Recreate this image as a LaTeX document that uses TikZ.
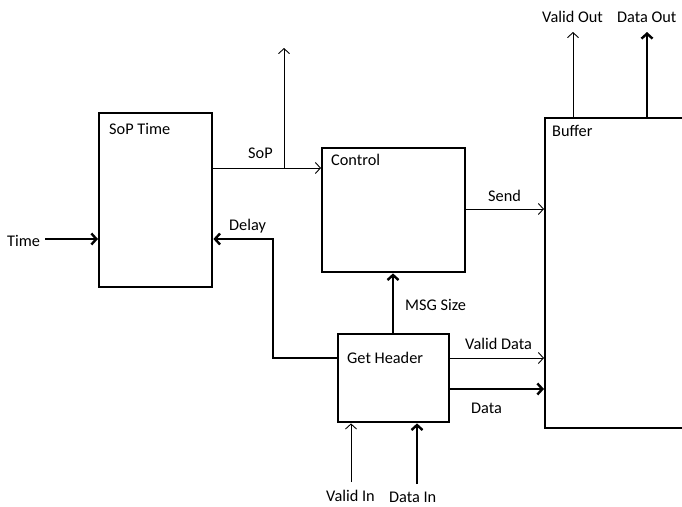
\documentclass[tikz,border=0pt]{standalone}
\usepackage{fontspec}
\setmainfont{Carlito}
\usetikzlibrary{arrows.meta}
\tikzset{
  block/.style={draw, line width=2.4pt, minimum width=#1, inner sep=0pt, anchor=north west},
  tag/.style={anchor=base west, inner sep=0pt, font=\fontsize{16.3}{19}\selectfont},
  sig/.style={line width=0.9pt, -{Straight Barb[length=5pt,width=11pt,line width=0.9pt]}},
  bus/.style={line width=2.6pt, -{Straight Barb[length=5pt,width=11pt,line width=2.4pt]}},
}
\begin{document}
\begin{tikzpicture}[x=1pt,y=-1pt]
\useasboundingbox (0,0) rectangle (682,506);
\clip (0,0) rectangle (682,506);

% blocks
\node[block=113pt, minimum height=174pt] (sop) at (98,112) {};
\node[block=143pt, minimum height=124pt] (ctrl) at (321,147) {};
\node[block=160pt, minimum height=310pt] (buf) at (544,117) {};
\node[block=111pt, minimum height=88pt] (hdr) at (337,333) {};

% block titles
\node[tag] (tsop) at (109,134) {SoP Time};
\node[tag] (tctrl) at (331,165) {Control};
\node[tag] (tbuf) at (552,136) {Buffer};
\node[tag] (thdr) at (347,363) {Get Header};

% connection points
\coordinate (timein) at (45,239);
\coordinate (sopout) at (211,168);
\coordinate (branch) at (284,168);
\coordinate (soptop) at (284,48);
\coordinate (sendout) at (464,209);
\coordinate (delayout) at (337,358);
\coordinate (delaycorner) at (273,358);
\coordinate (vdout) at (448,358);
\coordinate (dout) at (448,389);
\coordinate (msg) at (393,333);
\coordinate (validin) at (351,482);
\coordinate (datain) at (417,484);
\coordinate (voutbase) at (573,117);
\coordinate (vouttop) at (573,32);
\coordinate (doutbase) at (647,117);
\coordinate (douttop) at (647,32);

% signals
\draw[bus] (timein) -- (timein -| sop.west);
\draw[sig] (sopout) -- (sopout -| ctrl.west);
\draw[sig] (branch) -- (soptop);
\draw[sig] (sendout) -- (sendout -| buf.west);
\draw[bus] (delayout) -- (delaycorner) |- (timein -| sop.east);
\draw[bus] (msg) -- (msg |- ctrl.south);
\draw[sig] (vdout) -- (vdout -| buf.west);
\draw[bus] (dout) -- (dout -| buf.west);
\draw[sig] (validin) -- (validin |- hdr.south);
\draw[bus] (datain) -- (datain |- hdr.south);
\draw[sig] (voutbase) -- (vouttop);
\draw[bus] (doutbase) -- (douttop);

% signal names
\node[tag] (lTime) at (7,246) {Time};
\node[tag] (lSoP) at (248,158) {SoP};
\node[tag] (lDelay) at (229,230) {Delay};
\node[tag] (lSend) at (488,201) {Send};
\node[tag] (lMsg) at (405,310) {MSG Size};
\node[tag] (lVD) at (465,349) {Valid Data};
\node[tag] (lD) at (471,413) {Data};
\node[tag] (lVI) at (326,501) {Valid In};
\node[tag] (lDI) at (389,502) {Data In};
\node[tag] (lVO) at (542,22) {Valid Out};
\node[tag] (lDO) at (617,22) {Data Out};
\end{tikzpicture}
\end{document}
